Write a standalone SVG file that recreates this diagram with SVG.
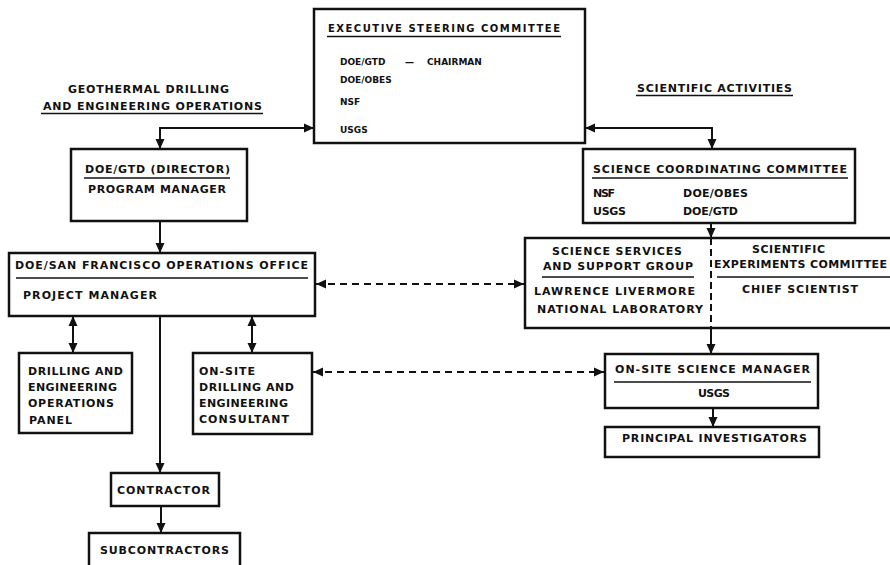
<svg xmlns="http://www.w3.org/2000/svg" width="890" height="565" viewBox="0 0 890 565">
<style>
text{font-family:"DejaVu Sans","Liberation Sans",sans-serif;font-weight:bold;font-size:11px;fill:#111}
.sm{font-size:9px}
.t10{font-size:10px}
.box{fill:#fff;stroke:#111;stroke-width:2.5}
.ul{stroke:#111;stroke-width:1.6}
.c{fill:none;stroke:#111;stroke-width:2}
.d{fill:none;stroke:#111;stroke-width:2;stroke-dasharray:7 5}
</style>
<defs>
<marker id="ah" markerUnits="userSpaceOnUse" markerWidth="10" markerHeight="10" viewBox="0 0 10 10" refX="10" refY="5" orient="auto-start-reverse">
<path d="M0,0.5 L10,5 L0,9.5 Z" fill="#111"/>
</marker>
</defs>
<rect width="890" height="565" fill="#fff"/>

<g id="hdr-left">
<text x="68" y="93" textLength="161" lengthAdjust="spacing">GEOTHERMAL DRILLING</text>
<text x="43" y="110" textLength="219" lengthAdjust="spacing">AND ENGINEERING OPERATIONS</text>
<line class="ul" x1="41" y1="113.5" x2="263" y2="113.5"/>
</g>
<g id="hdr-right">
<text x="637" y="92" textLength="155" lengthAdjust="spacing">SCIENTIFIC ACTIVITIES</text>
<line class="ul" x1="636" y1="95.5" x2="793" y2="95.5"/>
</g>

<g id="connectors">
<path class="c" d="M314,128 H160 V149" marker-start="url(#ah)" marker-end="url(#ah)"/>
<path class="c" d="M585,128 H712 V149" marker-start="url(#ah)" marker-end="url(#ah)"/>
<path class="c" d="M160,221 V253" marker-end="url(#ah)"/>
<path class="c" d="M73,316 V353" marker-start="url(#ah)" marker-end="url(#ah)"/>
<path class="c" d="M252,316 V353" marker-start="url(#ah)" marker-end="url(#ah)"/>
<path class="c" d="M160,316 V473" marker-end="url(#ah)"/>
<path class="c" d="M161,506 V533" marker-end="url(#ah)"/>
<path class="d" d="M316,284 H524" marker-start="url(#ah)" marker-end="url(#ah)"/>
<path class="d" d="M313,372 H604" marker-start="url(#ah)" marker-end="url(#ah)"/>
<path class="c" d="M711,223 V238" marker-end="url(#ah)"/>
<path class="c" d="M711,328 V354" marker-end="url(#ah)"/>
<path class="c" d="M713,408 V427" marker-end="url(#ah)"/>
</g>

<g id="exec">
<rect class="box" x="314" y="9" width="271" height="134"/>
<text class="t10" x="328" y="32" textLength="232" lengthAdjust="spacing">EXECUTIVE STEERING COMMITTEE</text>
<line class="ul" x1="327" y1="36.5" x2="561" y2="36.5"/>
<text class="sm" y="65"><tspan x="340">DOE/GTD</tspan> <tspan x="405">—</tspan> <tspan x="427">CHAIRMAN</tspan></text>
<text class="sm" x="340" y="83">DOE/OBES</text>
<text class="sm" x="340" y="105">NSF</text>
<text class="sm" x="340" y="133">USGS</text>
</g>

<g id="doe-gtd">
<rect class="box" x="71" y="149" width="176" height="72"/>
<text x="85" y="173" textLength="145" lengthAdjust="spacing">DOE/GTD (DIRECTOR)</text>
<line class="ul" x1="84" y1="178" x2="230" y2="178"/>
<text x="88" y="193" textLength="138" lengthAdjust="spacing">PROGRAM MANAGER</text>
</g>

<g id="sf-ops">
<rect class="box" x="9" y="253" width="306" height="63"/>
<text x="15" y="269" textLength="293" lengthAdjust="spacing">DOE/SAN FRANCISCO OPERATIONS OFFICE</text>
<line class="ul" x1="16" y1="278" x2="308" y2="278"/>
<text x="23" y="299" textLength="134" lengthAdjust="spacing">PROJECT MANAGER</text>
</g>

<g id="panel">
<rect class="box" x="19" y="353" width="113" height="80"/>
<text x="28" y="375" textLength="95" lengthAdjust="spacing">DRILLING AND</text>
<text x="28" y="391" textLength="89" lengthAdjust="spacing">ENGINEERING</text>
<text x="28" y="407" textLength="86" lengthAdjust="spacing">OPERATIONS</text>
<text x="29" y="424" textLength="43" lengthAdjust="spacing">PANEL</text>
</g>

<g id="consultant">
<rect class="box" x="193" y="353" width="119" height="81"/>
<text x="199" y="375" textLength="56" lengthAdjust="spacing">ON-SITE</text>
<text x="199" y="391" textLength="95" lengthAdjust="spacing">DRILLING AND</text>
<text x="199" y="407" textLength="89" lengthAdjust="spacing">ENGINEERING</text>
<text x="199" y="423" textLength="90" lengthAdjust="spacing">CONSULTANT</text>
</g>

<g id="contractor">
<rect class="box" x="111" y="473" width="108" height="33"/>
<text x="117" y="494" textLength="93" lengthAdjust="spacing">CONTRACTOR</text>
</g>

<g id="subcontractors">
<rect class="box" x="89" y="533" width="151" height="45"/>
<text x="100" y="554" textLength="129" lengthAdjust="spacing">SUBCONTRACTORS</text>
</g>

<g id="scc">
<rect class="box" x="583" y="149" width="272" height="74"/>
<text x="593" y="173" textLength="254" lengthAdjust="spacing">SCIENCE COORDINATING COMMITTEE</text>
<line class="ul" x1="592" y1="178" x2="848" y2="178"/>
<text x="593" y="197" textLength="22" lengthAdjust="spacing">NSF</text>
<text x="683" y="197" textLength="65" lengthAdjust="spacing">DOE/OBES</text>
<text x="593" y="215" textLength="33" lengthAdjust="spacing">USGS</text>
<text x="683" y="215" textLength="55" lengthAdjust="spacing">DOE/GTD</text>
</g>

<g id="science-services">
<rect class="box" x="525" y="238" width="380" height="90"/>
<line x1="711" y1="238" x2="711" y2="328" stroke="#111" stroke-width="2" stroke-dasharray="7 4"/>
<text x="552" y="255" textLength="130" lengthAdjust="spacing">SCIENCE SERVICES</text>
<text x="543" y="270" textLength="150" lengthAdjust="spacing">AND SUPPORT GROUP</text>
<line class="ul" x1="542" y1="277" x2="694" y2="277"/>
<text x="534" y="295" textLength="161" lengthAdjust="spacing">LAWRENCE LIVERMORE</text>
<text x="537" y="313" textLength="166" lengthAdjust="spacing">NATIONAL LABORATORY</text>
<text x="752" y="253" textLength="73" lengthAdjust="spacing">SCIENTIFIC</text>
<text x="714" y="268" textLength="173" lengthAdjust="spacing">EXPERIMENTS COMMITTEE</text>
<line class="ul" x1="717" y1="277" x2="900" y2="277"/>
<text x="742" y="293" textLength="116" lengthAdjust="spacing">CHIEF SCIENTIST</text>
</g>

<g id="onsite-science">
<rect class="box" x="605" y="354" width="213" height="54"/>
<text x="615" y="373" textLength="195" lengthAdjust="spacing">ON-SITE SCIENCE MANAGER</text>
<line class="ul" x1="614" y1="382" x2="811" y2="382"/>
<text x="698" y="397" textLength="32" lengthAdjust="spacing">USGS</text>
</g>

<g id="investigators">
<rect class="box" x="605" y="427" width="214" height="30"/>
<text x="622" y="442" textLength="185" lengthAdjust="spacing">PRINCIPAL INVESTIGATORS</text>
</g>
</svg>
